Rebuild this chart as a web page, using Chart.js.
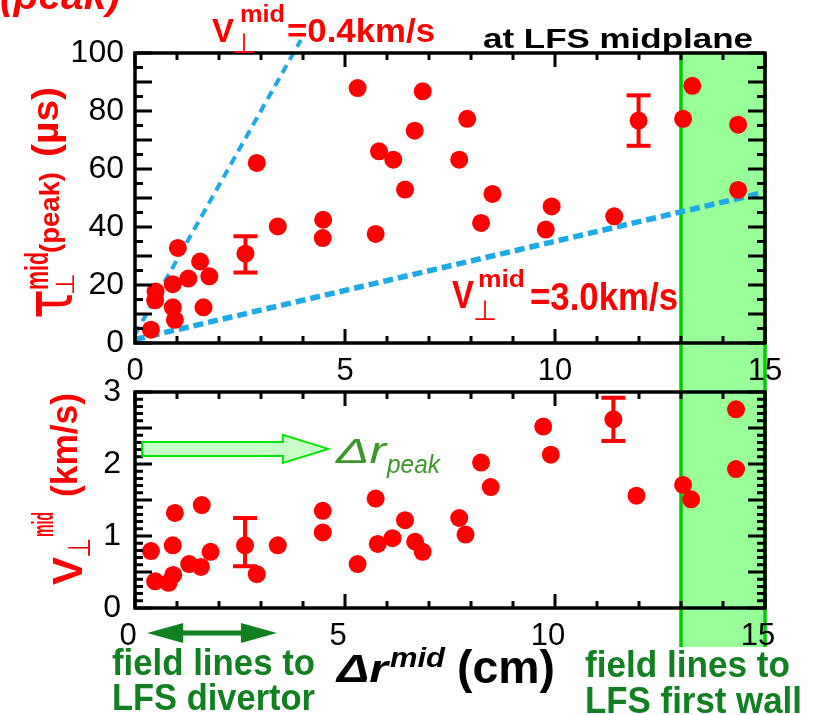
<!DOCTYPE html>
<html lang="en">
<head>
<meta charset="UTF-8">
<title>tau and V perp vs delta r</title>
<script src="https://cdn.jsdelivr.net/npm/chart.js@4.4.0/dist/chart.umd.min.js"></script>
<style>
  body { margin: 0; background: #fff; }
  #wrap { position: relative; width: 820px; height: 715px; background: #fff; }
  #wrap canvas { position: absolute; left: 0; top: 0; }
</style>
</head>
<body>
<div id="wrap">
  <canvas id="tauChart" width="820" height="715"></canvas>
  <canvas id="vChart" width="820" height="715"></canvas>
</div>
<script>
const SANS = '"Liberation Sans", Arial, sans-serif'
const SYM = '"DejaVu Sans", sans-serif'
const RED = 'rgb(255,0,0)'
const BLUE = 'rgb(30,170,230)'
const GREEN_TXT = 'rgb(16,128,32)'
const GREEN_ARR = 'rgb(60,150,40)'

// top panel: tau_perp^mid(peak) [us] vs delta r^mid [cm]
const tauX = [0.38, 0.48, 0.49, 0.90, 0.95, 0.90, 1.02, 1.27, 1.55, 1.63, 1.77, 2.90, 3.40, 4.48, 4.47, 5.30, 5.73,
  5.81, 6.15, 6.43, 6.66, 6.85, 7.72, 7.91, 8.24, 8.51, 9.78, 9.92, 11.41, 13.05, 13.27, 14.36, 14.36]
const tauY = [4.6, 14.7, 17.8, 12.3, 8.0, 20.3, 32.8, 22.2, 28.1, 12.3, 23.0, 62.1, 40.2, 42.5, 36.2, 87.9, 37.6,
  66.1, 63.2, 52.9, 73.2, 86.8, 63.2, 77.3, 41.4, 51.4, 39.1, 47.1, 43.7, 77.3, 88.7, 75.3, 52.8]
const tauErrX = [2.63, 11.99]
const tauErrY = [30.8, 76.7]
const tauErrLo = [24.3, 68.0]
const tauErrHi = [36.8, 85.4]

// reference lines V = 0.4 km/s and V = 3.0 km/s
const slowLineX = [0, 3.95]
const slowLineY = [3, 104.5]
const fastLineX = [0, 15]
const fastLineY = [1.2, 52]

// bottom panel: V_perp^mid [km/s]
const vX = [0.38, 0.48, 0.80, 0.91, 0.90, 0.95, 1.29, 1.57, 1.59, 1.80, 2.90, 3.40, 4.47, 4.47, 5.30, 5.73, 5.78,
  6.13, 6.43, 6.67, 6.85, 7.72, 7.87, 8.24, 8.47, 9.72, 9.90, 11.94, 13.05, 13.24, 14.31, 14.31]
const vY = [0.79, 0.37, 0.35, 0.46, 0.87, 1.32, 0.61, 0.57, 1.43, 0.78, 0.47, 0.87, 1.35, 1.05, 0.61, 1.52, 0.89,
  0.97, 1.22, 0.92, 0.78, 1.25, 1.02, 2.02, 1.68, 2.52, 2.13, 1.56, 1.71, 1.51, 2.76, 1.93]
const vErrX = [2.62, 11.39]
const vErrY = [0.87, 2.62]
const vErrLo = [0.58, 2.32]
const vErrHi = [1.25, 2.92]

// shaded first wall region, arrows (in cm)
const bandX = [13, 15]
const peakArrowX = [0.17, 3.52, 4.6]
const peakArrowV = 2.21
const divertorArrowX = [0.29, 3.38]

const pts = (xs, ys) => xs.map((x, i) => ({ x: x, y: ys[i] }))

function errSets(xs, lo, hi) {
  return xs.map((x, i) => ({
    data: [{ x: x, y: lo[i] }, { x: x, y: hi[i] }],
    showLine: true, borderColor: RED, borderWidth: 4,
    pointStyle: 'line', pointRadius: 12, pointBorderColor: RED, pointBorderWidth: 4
  }))
}

function txt(ctx, s, x, y, font, color, o = {}) {
  ctx.save()
  ctx.font = font
  ctx.fillStyle = color
  ctx.textAlign = 'left'
  ctx.textBaseline = 'alphabetic'
  ctx.translate(x, y)
  if (o.rot) ctx.rotate(-Math.PI / 2)
  const sx = o.w ? o.w / ctx.measureText(s).width : 1
  ctx.scale(sx, o.sy || 1)
  ctx.fillText(s, 0, 0)
  ctx.restore()
}

// black box with inward ticks on all four sides
function framePlugin(yMinor, yMajor) {
  return {
    id: 'frame',
    afterDatasetsDraw(chart) {
      const { ctx, chartArea: a, scales: { x, y } } = chart
      ctx.save()
      ctx.strokeStyle = '#000'
      ctx.lineWidth = 3
      for (let i = 0; i <= 15; i++) {
        const px = x.getPixelForValue(i)
        const len = i % 5 === 0 ? 14 : 7
        ctx.beginPath()
        ctx.moveTo(px, a.bottom); ctx.lineTo(px, a.bottom - len)
        ctx.moveTo(px, a.top); ctx.lineTo(px, a.top + len)
        ctx.stroke()
      }
      const n = Math.round((y.max - y.min) / yMinor)
      const every = Math.round(yMajor / yMinor)
      for (let i = 0; i <= n; i++) {
        const py = y.getPixelForValue(y.min + i * yMinor)
        const len = i % every === 0 ? 17 : 8
        ctx.beginPath()
        ctx.moveTo(a.left, py); ctx.lineTo(a.left + len, py)
        ctx.moveTo(a.right, py); ctx.lineTo(a.right - len, py)
        ctx.stroke()
      }
      ctx.lineWidth = 3.5
      ctx.strokeRect(a.left, a.top, a.right - a.left, a.bottom - a.top)
      ctx.restore()
    }
  }
}

// drawn first so tick labels sit on top of it
const bandPlugin = {
  id: 'band',
  beforeDraw(chart) {
    const { ctx, chartArea: a, scales: { x } } = chart
    const x0 = x.getPixelForValue(bandX[0])
    const x1 = x.getPixelForValue(bandX[1])
    ctx.save()
    ctx.fillStyle = 'rgb(153,255,153)'
    ctx.fillRect(x0, a.top, x1 - x0, 647 - a.top)
    ctx.strokeStyle = 'rgb(0,205,0)'
    ctx.lineWidth = 3.5
    ctx.beginPath()
    ctx.moveTo(x0, a.top); ctx.lineTo(x0, 647)
    ctx.moveTo(x1, a.top); ctx.lineTo(x1, 647)
    ctx.stroke()
    ctx.restore()
  }
}

const tauText = {
  id: 'tauText',
  afterDraw(chart) {
    const ctx = chart.ctx
    txt(ctx, '(peak)', 0, 9, 'bold italic 40px ' + SANS, RED, { w: 120 })

    txt(ctx, 'V', 212, 42, 'bold 33px ' + SANS, RED)
    txt(ctx, '\u22A5', 232, 53, '28px ' + SYM, RED, { w: 24 })
    txt(ctx, 'mid', 240, 22, 'bold 24px ' + SANS, RED, { w: 45 })
    txt(ctx, '=0.4km/s', 287, 42, 'bold 33px ' + SANS, RED, { w: 148 })

    txt(ctx, 'at LFS midplane', 483, 48, 'bold 28px ' + SANS, '#000', { w: 270 })

    txt(ctx, 'V', 452, 308, 'bold 33px ' + SANS, RED, { sy: 1.15 })
    txt(ctx, '\u22A5', 473, 320, '28px ' + SYM, RED, { w: 24 })
    txt(ctx, 'mid', 478, 287, 'bold 24px ' + SANS, RED, { w: 47 })
    txt(ctx, '=3.0km/s', 530, 310, 'bold 33px ' + SANS, RED, { w: 148, sy: 1.15 })

    // rotated y title
    txt(ctx, '\u03C4', 72, 319, '58px ' + SYM, RED, { rot: true, w: 30, sy: 1.15 })
    txt(ctx, '\u22A5', 74, 295, '26px ' + SYM, RED, { rot: true, w: 22 })
    txt(ctx, 'mid', 48, 290, 'bold 26px ' + SANS, RED, { rot: true, w: 38, sy: 1.25 })
    txt(ctx, '(peak)', 59, 253, 'bold 27px ' + SANS, RED, { rot: true, w: 81 })
    txt(ctx, '(\u00B5s)', 58, 157, 'bold 36px ' + SANS, RED, { rot: true, w: 70 })
  }
}

const vText = {
  id: 'vText',
  afterDraw(chart) {
    const { ctx, scales: { x, y } } = chart
    // green arrow for delta r peak
    const ax0 = x.getPixelForValue(peakArrowX[0])
    const ax1 = x.getPixelForValue(peakArrowX[1])
    const ax2 = x.getPixelForValue(peakArrowX[2])
    const ay = y.getPixelForValue(peakArrowV)
    ctx.save()
    ctx.beginPath()
    ctx.moveTo(ax0, ay - 7); ctx.lineTo(ax1, ay - 7); ctx.lineTo(ax1, ay - 14)
    ctx.lineTo(ax2, ay); ctx.lineTo(ax1, ay + 14); ctx.lineTo(ax1, ay + 7)
    ctx.lineTo(ax0, ay + 7); ctx.closePath()
    ctx.fillStyle = 'rgb(200,255,200)'
    ctx.fill()
    ctx.strokeStyle = 'rgb(0,230,0)'
    ctx.lineWidth = 2
    ctx.stroke()
    ctx.restore()
    txt(ctx, '\u0394r', 336, 463, 'italic 36px ' + SANS, GREEN_ARR, { w: 50 })
    txt(ctx, 'peak', 387, 473, 'italic 25px ' + SANS, GREEN_ARR, { w: 53 })

    // double arrow under the axis
    const d0 = x.getPixelForValue(divertorArrowX[0])
    const d1 = x.getPixelForValue(divertorArrowX[1])
    const dy = 633
    ctx.save()
    ctx.fillStyle = GREEN_TXT
    ctx.strokeStyle = GREEN_TXT
    ctx.lineWidth = 5
    ctx.beginPath(); ctx.moveTo(d0 + 30, dy); ctx.lineTo(d1 - 30, dy); ctx.stroke()
    ctx.beginPath(); ctx.moveTo(d0, dy); ctx.lineTo(d0 + 36, dy - 10); ctx.lineTo(d0 + 36, dy + 10); ctx.closePath(); ctx.fill()
    ctx.beginPath(); ctx.moveTo(d1, dy); ctx.lineTo(d1 - 36, dy - 10); ctx.lineTo(d1 - 36, dy + 10); ctx.closePath(); ctx.fill()
    ctx.restore()

    txt(ctx, 'field lines to', 112, 675, 'bold 35px ' + SANS, GREEN_TXT, { w: 203, sy: 1.08 })
    txt(ctx, 'LFS divertor', 112, 710, 'bold 35px ' + SANS, GREEN_TXT, { w: 203, sy: 1.08 })
    txt(ctx, 'field lines to', 585, 677, 'bold 35px ' + SANS, GREEN_TXT, { w: 205, sy: 1.08 })
    txt(ctx, 'LFS first wall', 585, 713, 'bold 35px ' + SANS, GREEN_TXT, { w: 217, sy: 1.08 })

    // x title
    txt(ctx, '\u0394r', 337, 682, 'bold italic 38px ' + SANS, '#000', { w: 51 })
    txt(ctx, 'mid', 390, 667, 'bold italic 27px ' + SANS, '#000', { w: 55 })
    txt(ctx, '(cm)', 457, 683, 'bold 46px ' + SANS, '#000', { w: 98 })

    // rotated y title
    txt(ctx, 'V', 82, 585, 'bold 42px ' + SANS, RED, { rot: true, w: 28 })
    txt(ctx, '\u22A5', 90, 558, '24px ' + SYM, RED, { rot: true, w: 20, sy: 1.3 })
    txt(ctx, 'mid', 53, 537, 'bold 20px ' + SANS, RED, { rot: true, w: 25, sy: 1.5 })
    txt(ctx, '(km/s)', 77, 497, 'bold 36px ' + SANS, RED, { rot: true, w: 104 })
  }
}

function axes(yMax, yStep, xHeight, xOffset, yPad) {
  return {
    x: {
      type: 'linear', min: 0, max: 15,
      afterFit: s => { s.height = xHeight },
      grid: { display: false, drawTicks: false }, border: { display: false },
      ticks: { stepSize: 5, color: '#000', padding: 10, maxRotation: 0, labelOffset: xOffset,
        font: { family: SANS, size: 31 } }
    },
    y: {
      type: 'linear', min: 0, max: yMax,
      afterFit: s => { s.width = 135 },
      grid: { display: false, drawTicks: false }, border: { display: false },
      ticks: { stepSize: yStep, color: '#000', padding: yPad, font: { family: SANS, size: 32 } }
    }
  }
}

const dotStyle = { pointRadius: 9, pointBackgroundColor: RED, pointBorderWidth: 0, pointHoverRadius: 9 }

new Chart(document.getElementById('tauChart'), {
  type: 'scatter',
  data: {
    datasets: [
      { data: pts(tauX, tauY), ...dotStyle },
      { data: pts(tauErrX, tauErrY), ...dotStyle },
      ...errSets(tauErrX, tauErrLo, tauErrHi),
      { data: pts(slowLineX, slowLineY), showLine: true, borderColor: BLUE, borderWidth: 4,
        borderDash: [9, 6], pointRadius: 0, clip: false },
      { data: pts(fastLineX, fastLineY), showLine: true, borderColor: BLUE, borderWidth: 5.5,
        borderDash: [10, 5], pointRadius: 0, clip: false }
    ]
  },
  plugins: [bandPlugin, framePlugin(5, 10), tauText],
  options: {
    responsive: false, animation: false, devicePixelRatio: 1,
    layout: { padding: { top: 53, right: 55, left: 0, bottom: 0 } },
    plugins: { legend: { display: false }, tooltip: { enabled: false } },
    scales: axes(100, 20, 372, 0, 11)
  }
})

new Chart(document.getElementById('vChart'), {
  type: 'scatter',
  data: {
    datasets: [
      { data: pts(vX, vY), ...dotStyle },
      { data: pts(vErrX, vErrY), ...dotStyle },
      ...errSets(vErrX, vErrLo, vErrHi)
    ]
  },
  plugins: [framePlugin(0.1, 0.5), vText],
  options: {
    responsive: false, animation: false, devicePixelRatio: 1,
    layout: { padding: { top: 392, right: 55, left: 0, bottom: 0 } },
    plugins: { legend: { display: false }, tooltip: { enabled: false } },
    scales: axes(3, 1, 107, -7, 14)
  }
})
</script>
</body>
</html>
